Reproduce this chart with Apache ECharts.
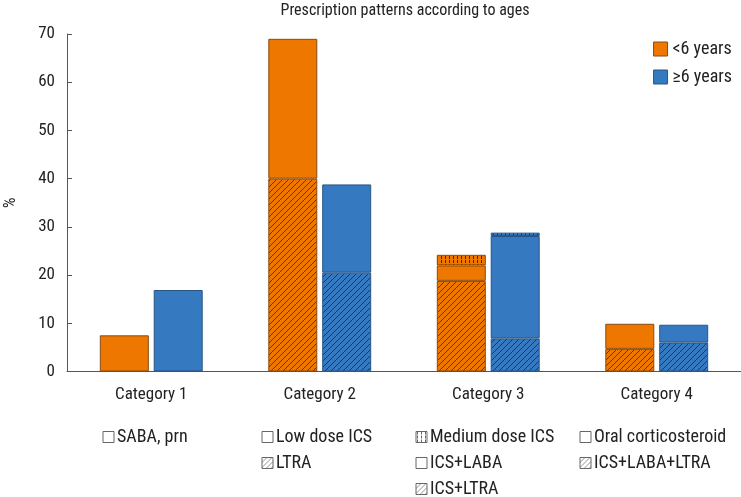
<!DOCTYPE html>
<html>
<head>
<meta charset="utf-8">
<script src="https://cdn.jsdelivr.net/npm/echarts@6/dist/echarts.min.js"></script>
<style>html,body{margin:0;padding:0;background:#fff;}#c{width:741px;height:497px;}</style>
</head>
<body>
<div id="c"></div>
<script>
// ---- data ----
const categories = ['Category 1', 'Category 2', 'Category 3', 'Category 4'];
const yTicks = [0, 10, 20, 30, 40, 50, 60, 70];
const ageGroups = ['<6 years', '\u22656 years'];
// bottom (hatched) segment: LTRA / ICS+LTRA / ICS+LABA+LTRA
const under6Hatched = [null, 40, 18.8, 4.7];
// middle (plain) segment: SABA, prn / Low dose ICS / ICS+LABA / Oral corticosteroid
const under6Plain = [7.5, 29, 3.2, 5.2];
// top (dotted) segment: Medium dose ICS
const under6Dotted = [null, null, 2.2, null];
const over6Hatched = [null, 20.5, 6.85, 6.0];
const over6Plain = [16.9, 18.3, 21.25, 3.7];
const over6Dotted = [null, null, 0.7, null];
const legendRows = [
  [['SABA, prn', 'plain']],
  [['Low dose ICS', 'plain'], ['LTRA', 'hatch']],
  [['Medium dose ICS', 'dots'], ['ICS+LABA', 'plain'], ['ICS+LTRA', 'hatch']],
  [['Oral corticosteroid', 'plain'], ['ICS+LABA+LTRA', 'hatch']]
];

// ---- styles ----
const FONT = "'Roboto Condensed', 'Liberation Sans Narrow', 'DejaVu Sans Condensed', sans-serif";
const ORANGE = '#EE7700', BLUE = '#3579C0';
const ORANGE_B = '#8a4a12', BLUE_B = '#2b5585';

function hatchPattern(base, line, s) {
  const c = document.createElement('canvas');
  c.width = s; c.height = s;
  const g = c.getContext('2d');
  g.fillStyle = base; g.fillRect(0, 0, s, s);
  g.strokeStyle = line; g.lineWidth = 0.8;
  g.beginPath();
  g.moveTo(0, s); g.lineTo(s, 0);
  g.moveTo(-s / 2, s / 2); g.lineTo(s / 2, -s / 2);
  g.moveTo(s / 2, s * 1.5); g.lineTo(s * 1.5, s / 2);
  g.stroke();
  return { image: c, repeat: 'repeat' };
}
function dotPattern(base, line) {
  const c = document.createElement('canvas');
  c.width = 4; c.height = 4;
  const g = c.getContext('2d');
  g.fillStyle = base; g.fillRect(0, 0, 4, 4);
  g.fillStyle = line;
  g.fillRect(1, 0, 1, 3);
  return { image: c, repeat: 'repeat' };
}
function seg(name, stack, data, color, border) {
  return {
    type: 'bar', name: name, stack: stack, data: data,
    barWidth: 49, barGap: '10%',
    itemStyle: { color: color, borderColor: border, borderWidth: 1 }
  };
}
const series = [
  seg(ageGroups[0], 'a', under6Hatched, hatchPattern(ORANGE, 'rgba(50,20,0,0.85)', 6), ORANGE_B),
  seg(ageGroups[0], 'a', under6Plain, ORANGE, ORANGE_B),
  seg(ageGroups[0], 'a', under6Dotted, dotPattern(ORANGE, 'rgba(60,25,0,0.85)'), ORANGE_B),
  seg(ageGroups[1], 'b', over6Hatched, hatchPattern(BLUE, 'rgba(10,25,55,0.85)', 6), BLUE_B),
  seg(ageGroups[1], 'b', over6Plain, BLUE, BLUE_B),
  seg(ageGroups[1], 'b', over6Dotted, dotPattern(BLUE, 'rgba(10,30,60,0.85)'), BLUE_B)
];

// bottom legend + title as graphics
const colX = [103, 262, 416, 580];
const rowY = [437, 463, 489];
const graphics = [{
  type: 'text', x: 405, y: 11,
  style: { text: 'Prescription patterns according to ages', font: '16px ' + FONT, fill: '#222', textAlign: 'center', textVerticalAlign: 'middle' }
}];
legendRows.forEach((col, ci) => {
  col.forEach((item, ri) => {
    const kind = item[1];
    let fill = '#fff';
    if (kind === 'hatch') fill = hatchPattern('#fff', '#777', 5);
    if (kind === 'dots') fill = dotPattern('#fff', '#666');
    graphics.push({ type: 'rect', x: colX[ci], y: rowY[ri] - 5.5, shape: { width: 11, height: 11 },
      style: { fill: fill, stroke: '#666', lineWidth: 1 } });
    graphics.push({ type: 'text', x: colX[ci] + 14, y: rowY[ri],
      style: { text: item[0], font: '18px ' + FONT, fill: '#222', textVerticalAlign: 'middle' } });
  });
});

const chart = echarts.init(document.getElementById('c'), null, { renderer: 'canvas' });
chart.setOption({
  animation: false,
  backgroundColor: '#fff',
  grid: { left: 67, right: 0, top: 34, bottom: 125.5, outerBoundsMode: 'none', containLabel: false },
  legend: {
    orient: 'vertical', right: 4, top: 35, itemWidth: 14, itemHeight: 14, itemGap: 10,
    textStyle: { fontFamily: FONT, fontSize: 18, color: '#222' },
    data: [
      { name: ageGroups[0], icon: 'rect', itemStyle: { color: ORANGE, borderColor: ORANGE_B, borderWidth: 1 } },
      { name: ageGroups[1], icon: 'rect', itemStyle: { color: BLUE, borderColor: BLUE_B, borderWidth: 1 } }
    ]
  },
  xAxis: {
    type: 'category', data: categories,
    axisLine: { lineStyle: { color: '#555', width: 1 } }, axisTick: { show: false },
    axisLabel: { fontFamily: FONT, fontSize: 17, color: '#222', margin: 15 }
  },
  yAxis: {
    type: 'value', min: yTicks[0], max: yTicks[yTicks.length - 1], interval: 10,
    name: '%', nameLocation: 'middle', nameGap: 48, nameRotate: 90,
    nameTextStyle: { fontFamily: FONT, fontSize: 17, color: '#222' },
    axisLine: { show: true, lineStyle: { color: '#555', width: 1 } },
    axisTick: { show: true, inside: true, length: 5, lineStyle: { color: '#555' } },
    axisLabel: { fontFamily: FONT, fontSize: 17, color: '#222', margin: 12 },
    splitLine: { show: false }
  },
  graphic: graphics,
  series: series
});
</script>
</body>
</html>
